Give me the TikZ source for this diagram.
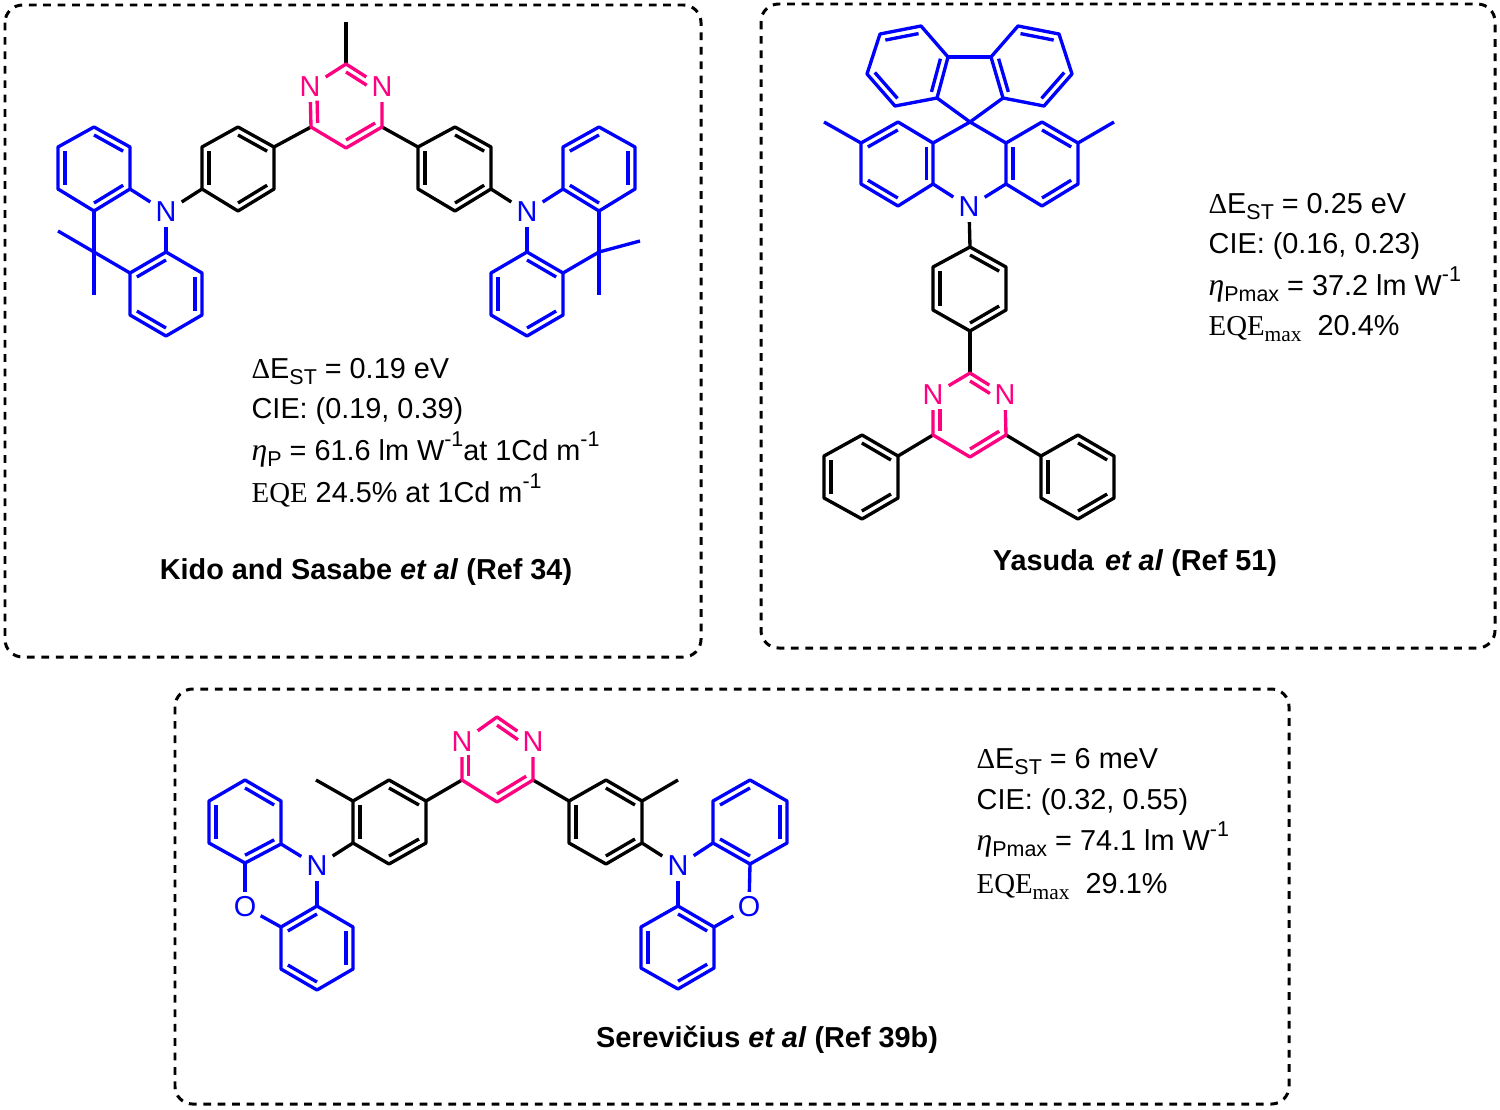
\documentclass[tikz,border=0pt]{standalone}
\usepackage{fontspec}
\setmainfont{Liberation Sans}
\newfontfamily\serifm{Liberation Serif}
\usetikzlibrary{calc}
\definecolor{donorblue}{RGB}{0,0,255}
\definecolor{azinepink}{RGB}{255,0,128}
\newcommand{\lowtxt}[1]{\raisebox{-1.8pt}{\fontsize{6.1}{6}\selectfont #1}}
\newcommand{\uptxt}[1]{\raisebox{3.9pt}{\fontsize{6.1}{6}\selectfont #1}}
\newcommand{\delE}{{\serifm\symbol{"0394}}E\lowtxt{ST}}
\newcommand{\etaP}[1]{{\fontsize{9}{10}\selectfont\serifm\itshape\symbol{"03B7}}\lowtxt{#1}}
\newcommand{\eqe}[1]{{\serifm EQE\lowtxt{#1}}}
\newcommand{\inbond}[4][]{\draw[#1] ($(#2)!.19!(#4)$) -- ($(#3)!.19!(#4)$);}
\tikzset{
  atom/.style={inner sep=0pt,minimum width=.28cm,minimum height=.27cm},
  donor/.style={color=donorblue},
  azine/.style={color=azinepink},
  offatom/.style={shorten <=1mm},
  panel/.style={line width=.85pt,rounded corners=5pt,dash pattern=on 2.2pt off 1.9pt},
  info/.style={anchor=base west,inner sep=0pt},
  credit/.style={anchor=base,inner sep=0pt,font=\fontsize{8.2}{10}\selectfont\bfseries}
}
\begin{document}
\begin{tikzpicture}[x=.01cm,y=-.01cm,line width=.95pt,line join=round,
    font=\fontsize{8.2}{10}\selectfont]
  \useasboundingbox (0,0) rectangle (1500,1109);
  \draw[panel] (5,5) rectangle (701,657);
  \draw[panel] (761,4) rectangle (1495,648);
  \draw[panel] (175,689) rectangle (1289,1104);
  % first molecule
  \draw
    (94,127) coordinate (a1) (130,147) coordinate (a2) (130,189) coordinate (a3)
    (94,211) coordinate (a4) (58,189) coordinate (a5) (58,147) coordinate (a6)
    (166,252) coordinate (a7) (202,273) coordinate (a8) (202,315) coordinate (a9)
    (166,336) coordinate (a10) (130,315) coordinate (a11) (130,273) coordinate (a12)
    (94,252) coordinate (a13) (58,231) coordinate (a14) (94,295) coordinate (a15)
    (238,127) coordinate (a16) (274,147) coordinate (a17) (274,189) coordinate (a18)
    (238,211) coordinate (a19) (202,189) coordinate (a20) (202,147) coordinate (a21)
    (311,127) coordinate (a22) (346,64) coordinate (a23) (382,127) coordinate (a24)
    (346,148) coordinate (a25) (346,22) coordinate (a26)
    (418,147) coordinate (a27) (455,127) coordinate (a28) (491,147) coordinate (a29)
    (491,189) coordinate (a30) (455,211) coordinate (a31) (418,189) coordinate (a32)
    (563,147) coordinate (a33) (599,127) coordinate (a34) (635,147) coordinate (a35)
    (635,189) coordinate (a36) (599,211) coordinate (a37) (563,189) coordinate (a38)
    (527,252) coordinate (a39) (563,273) coordinate (a40) (563,315) coordinate (a41)
    (527,336) coordinate (a42) (491,315) coordinate (a43) (491,273) coordinate (a44)
    (599,252) coordinate (a45) (640,241) coordinate (a46) (599,295) coordinate (a47)
    (94,169) coordinate (ac1) (166,294) coordinate (ac2) (238,169) coordinate (ac3)
    (346,106) coordinate (ac4) (455,169) coordinate (ac5) (599,169) coordinate (ac6)
    (527,294) coordinate (ac7);
  \node[atom,donor] (aN1) at (166,212) {N};
  \node[atom,azine] (aN2) at (310,87) {N};
  \node[atom,azine] (aN3) at (382,87) {N};
  \node[atom,donor] (aN4) at (527,212) {N};
  \begin{scope}
    \draw (a16) -- (a17) -- (a18) -- (a19) -- (a20) -- (a21) -- cycle;
    \draw (a27) -- (a28) -- (a29) -- (a30) -- (a31) -- (a32) -- cycle;
    \draw (aN1) to (a20);
    \draw (a17) to (a22);
    \draw (a23) to (a26);
    \draw (a24) to (a27);
    \draw (a30) to (aN4);
    \inbond{a16}{a17}{ac3}
    \inbond{a21}{a20}{ac3}
    \inbond{a18}{a19}{ac3}
    \inbond{a28}{a29}{ac5}
    \inbond{a27}{a32}{ac5}
    \inbond{a30}{a31}{ac5}
  \end{scope}
  \begin{scope}[azine]
    \draw (aN2) -- (a23) -- (aN3);
    \draw (aN3) -- (a24) -- (a25) -- (a22) -- (aN2);
    \inbond[offatom]{aN3}{a23}{ac4}
    \inbond[offatom]{aN2}{a22}{ac4}
    \inbond{a25}{a24}{ac4}
  \end{scope}
  \begin{scope}[donor]
    \draw (a1) -- (a2) -- (a3) -- (a4) -- (a5) -- (a6) -- cycle;
    \draw (a7) -- (a8) -- (a9) -- (a10) -- (a11) -- (a12) -- cycle;
    \draw (a33) -- (a34) -- (a35) -- (a36) -- (a37) -- (a38) -- cycle;
    \draw (a39) -- (a40) -- (a41) -- (a42) -- (a43) -- (a44) -- cycle;
    \draw (a3) to (aN1);
    \draw (aN1) to (a7);
    \draw (a4) to (a13);
    \draw (a13) to (a12);
    \draw (a14) to (a13);
    \draw (a13) to (a15);
    \draw (a38) to (aN4);
    \draw (aN4) to (a39);
    \draw (a37) to (a45);
    \draw (a45) to (a40);
    \draw (a45) to (a46);
    \draw (a45) to (a47);
    \inbond{a1}{a2}{ac1}
    \inbond{a6}{a5}{ac1}
    \inbond{a3}{a4}{ac1}
    \inbond{a7}{a12}{ac2}
    \inbond{a8}{a9}{ac2}
    \inbond{a11}{a10}{ac2}
    \inbond{a33}{a34}{ac6}
    \inbond{a35}{a36}{ac6}
    \inbond{a38}{a37}{ac6}
    \inbond{a39}{a40}{ac7}
    \inbond{a44}{a43}{ac7}
    \inbond{a41}{a42}{ac7}
  \end{scope}
  \node[info] (aT1) at (250,378) {\delE{} = 0.19 eV};
  \node[info] (aT2) at (250,418) {CIE: (0.19, 0.39)};
  \node[info] (aT3) at (250,460) {\etaP{P} = 61.6 lm W\uptxt{-1}at 1Cd m\uptxt{-1}};
  \node[info] (aT4) at (250,502) {\eqe{} 24.5\% at 1Cd m\uptxt{-1}};
  \node[credit] (aT5) at (366,579) {Kido and Sasabe \textit{et al} (Ref 34)};
  % second molecule
  \draw
    (948,57) coordinate (b1) (921,26) coordinate (b2) (880,34) coordinate (b3)
    (867,74) coordinate (b4) (895,106) coordinate (b5) (937,98) coordinate (b6)
    (991,57) coordinate (b7) (1018,26) coordinate (b8) (1059,34) coordinate (b9)
    (1072,74) coordinate (b10) (1044,106) coordinate (b11) (1003,98) coordinate (b12)
    (970,122) coordinate (b13)
    (898,122) coordinate (b14) (933,143) coordinate (b15) (933,184) coordinate (b16)
    (898,206) coordinate (b17) (861,184) coordinate (b18) (861,143) coordinate (b19)
    (1006,143) coordinate (b20) (1042,122) coordinate (b21) (1078,143) coordinate (b22)
    (1078,184) coordinate (b23) (1042,206) coordinate (b24) (1006,184) coordinate (b25)
    (824,122) coordinate (b26) (1114,122) coordinate (b27)
    (970,247) coordinate (b28) (1006,267) coordinate (b29) (1006,310) coordinate (b30)
    (970,331) coordinate (b31) (933,310) coordinate (b32) (933,267) coordinate (b33)
    (970,373) coordinate (b34) (1006,435) coordinate (b35) (970,457) coordinate (b36)
    (933,435) coordinate (b37)
    (862,435) coordinate (b38) (898,456) coordinate (b39) (898,498) coordinate (b40)
    (862,519) coordinate (b41) (824,498) coordinate (b42) (824,456) coordinate (b43)
    (1041,456) coordinate (b44) (1078,435) coordinate (b45) (1114,456) coordinate (b46)
    (1114,498) coordinate (b47) (1078,519) coordinate (b48) (1041,498) coordinate (b49)
    (908,66) coordinate (bc1) (1031,66) coordinate (bc2) (897,164) coordinate (bc3)
    (1042,164) coordinate (bc4) (970,289) coordinate (bc5) (970,415) coordinate (bc6)
    (861,477) coordinate (bc7) (1078,477) coordinate (bc8);
  \node[atom,donor] (bN1) at (969,207) {N};
  \node[atom,azine] (bN2) at (1005,395) {N};
  \node[atom,azine] (bN3) at (933,395) {N};
  \begin{scope}
    \draw (b28) -- (b29) -- (b30) -- (b31) -- (b32) -- (b33) -- cycle;
    \draw (b38) -- (b39) -- (b40) -- (b41) -- (b42) -- (b43) -- cycle;
    \draw (b44) -- (b45) -- (b46) -- (b47) -- (b48) -- (b49) -- cycle;
    \draw (bN1) to (b28);
    \draw (b31) to (b34);
    \draw (b37) to (b39);
    \draw (b35) to (b44);
    \inbond{b28}{b29}{bc5}
    \inbond{b33}{b32}{bc5}
    \inbond{b30}{b31}{bc5}
    \inbond{b38}{b39}{bc7}
    \inbond{b43}{b42}{bc7}
    \inbond{b40}{b41}{bc7}
    \inbond{b45}{b46}{bc8}
    \inbond{b44}{b49}{bc8}
    \inbond{b47}{b48}{bc8}
  \end{scope}
  \begin{scope}[azine]
    \draw (bN3) -- (b34) -- (bN2);
    \draw (bN2) -- (b35) -- (b36) -- (b37) -- (bN3);
    \inbond[offatom]{bN2}{b34}{bc6}
    \inbond[offatom]{bN3}{b37}{bc6}
    \inbond{b36}{b35}{bc6}
  \end{scope}
  \begin{scope}[donor]
    \draw (b1) -- (b2) -- (b3) -- (b4) -- (b5) -- (b6) -- cycle;
    \draw (b7) -- (b8) -- (b9) -- (b10) -- (b11) -- (b12) -- cycle;
    \draw (b14) -- (b15) -- (b16) -- (b17) -- (b18) -- (b19) -- cycle;
    \draw (b20) -- (b21) -- (b22) -- (b23) -- (b24) -- (b25) -- cycle;
    \draw (b1) to (b7);
    \draw (b6) to (b13);
    \draw (b12) to (b13);
    \draw (b15) to (b13);
    \draw (b20) to (b13);
    \draw (b16) to (bN1);
    \draw (b25) to (bN1);
    \draw (b19) to (b26);
    \draw (b22) to (b27);
    \inbond{b2}{b3}{bc1}
    \inbond{b4}{b5}{bc1}
    \inbond{b6}{b1}{bc1}
    \inbond{b8}{b9}{bc2}
    \inbond{b10}{b11}{bc2}
    \inbond{b12}{b7}{bc2}
    \inbond{b19}{b14}{bc3}
    \inbond{b15}{b16}{bc3}
    \inbond{b18}{b17}{bc3}
    \inbond{b21}{b22}{bc4}
    \inbond{b20}{b25}{bc4}
    \inbond{b23}{b24}{bc4}
  \end{scope}
  \node[info] (bT1) at (1207,213) {\delE{} = 0.25 eV};
  \node[info] (bT2) at (1207,253) {CIE: (0.16, 0.23)};
  \node[info] (bT3) at (1207,295) {\etaP{Pmax} = 37.2 lm W\uptxt{-1}};
  \node[info] (bT4) at (1207,335) {\eqe{max}\ \ 20.4\%};
  \node[credit] (bT5) at (1135,570) {Yasuda \hspace{.9pt}\textit{et al} (Ref 51)};
  % third molecule
  \draw
    (245,780) coordinate (c1) (281,801) coordinate (c2) (281,844) coordinate (c3)
    (245,863) coordinate (c4) (209,843) coordinate (c5) (209,801) coordinate (c6)
    (317,906) coordinate (c7) (353,927) coordinate (c8) (353,969) coordinate (c9)
    (317,990) coordinate (c10) (281,969) coordinate (c11) (281,927) coordinate (c12)
    (353,843) coordinate (c13) (353,801) coordinate (c14) (389,780) coordinate (c15)
    (426,801) coordinate (c16) (426,843) coordinate (c17) (389,864) coordinate (c18)
    (316,780) coordinate (c19)
    (462,780) coordinate (c20) (497,717) coordinate (c21) (533,780) coordinate (c22)
    (497,802) coordinate (c23)
    (569,801) coordinate (c24) (606,780) coordinate (c25) (642,801) coordinate (c26)
    (642,843) coordinate (c27) (606,864) coordinate (c28) (569,843) coordinate (c29)
    (678,780) coordinate (c30)
    (713,843) coordinate (c31) (713,801) coordinate (c32) (750,780) coordinate (c33)
    (787,801) coordinate (c34) (787,843) coordinate (c35) (750,864) coordinate (c36)
    (678,906) coordinate (c37) (714,927) coordinate (c38) (714,968) coordinate (c39)
    (678,989) coordinate (c40) (641,968) coordinate (c41) (641,927) coordinate (c42)
    (245,822) coordinate (cc1) (317,948) coordinate (cc2) (389,822) coordinate (cc3)
    (497,760) coordinate (cc4) (605,822) coordinate (cc5) (750,822) coordinate (cc6)
    (678,948) coordinate (cc7);
  \node[atom,donor] (cN1) at (317,866) {N};
  \node[atom,donor] (cO1) at (245,907) {O};
  \node[atom,azine] (cN2) at (462,742) {N};
  \node[atom,azine] (cN3) at (533,742) {N};
  \node[atom,donor] (cN4) at (678,866) {N};
  \node[atom,donor] (cO2) at (749,907) {O};
  \begin{scope}
    \draw (c13) -- (c14) -- (c15) -- (c16) -- (c17) -- (c18) -- cycle;
    \draw (c24) -- (c25) -- (c26) -- (c27) -- (c28) -- (c29) -- cycle;
    \draw (cN1) to (c13);
    \draw (c14) to (c19);
    \draw (c16) to (c20);
    \draw (c22) to (c24);
    \draw (c26) to (c30);
    \draw (c27) to (cN4);
    \inbond{c14}{c13}{cc3}
    \inbond{c15}{c16}{cc3}
    \inbond{c17}{c18}{cc3}
    \inbond{c25}{c26}{cc5}
    \inbond{c24}{c29}{cc5}
    \inbond{c27}{c28}{cc5}
  \end{scope}
  \begin{scope}[azine]
    \draw (cN2) -- (c21) -- (cN3);
    \draw (cN3) -- (c22) -- (c23) -- (c20) -- (cN2);
    \inbond[offatom]{cN3}{c21}{cc4}
    \inbond[offatom]{cN2}{c20}{cc4}
    \inbond{c23}{c22}{cc4}
  \end{scope}
  \begin{scope}[donor]
    \draw (c1) -- (c2) -- (c3) -- (c4) -- (c5) -- (c6) -- cycle;
    \draw (c7) -- (c8) -- (c9) -- (c10) -- (c11) -- (c12) -- cycle;
    \draw (c31) -- (c32) -- (c33) -- (c34) -- (c35) -- (c36) -- cycle;
    \draw (c37) -- (c38) -- (c39) -- (c40) -- (c41) -- (c42) -- cycle;
    \draw (c3) to (cN1);
    \draw (cN1) to (c7);
    \draw (c4) to (cO1);
    \draw (cO1) to (c12);
    \draw (c31) to (cN4);
    \draw (cN4) to (c37);
    \draw (c36) to (cO2);
    \draw (cO2) to (c38);
    \inbond{c1}{c2}{cc1}
    \inbond{c6}{c5}{cc1}
    \inbond{c3}{c4}{cc1}
    \inbond{c7}{c12}{cc2}
    \inbond{c8}{c9}{cc2}
    \inbond{c11}{c10}{cc2}
    \inbond{c32}{c33}{cc6}
    \inbond{c34}{c35}{cc6}
    \inbond{c31}{c36}{cc6}
    \inbond{c37}{c38}{cc7}
    \inbond{c42}{c41}{cc7}
    \inbond{c39}{c40}{cc7}
  \end{scope}
  \node[info] (cT1) at (975,768) {\delE{} = 6 meV};
  \node[info] (cT2) at (975,809) {CIE: (0.32, 0.55)};
  \node[info] (cT3) at (975,850) {\etaP{Pmax} = 74.1 lm W\uptxt{-1}};
  \node[info] (cT4) at (975,893) {\eqe{max}\ \ 29.1\%};
  \node[credit] (cT5) at (767,1047) {Serevičius \textit{et al} (Ref 39b)};
\end{tikzpicture}
\end{document}
